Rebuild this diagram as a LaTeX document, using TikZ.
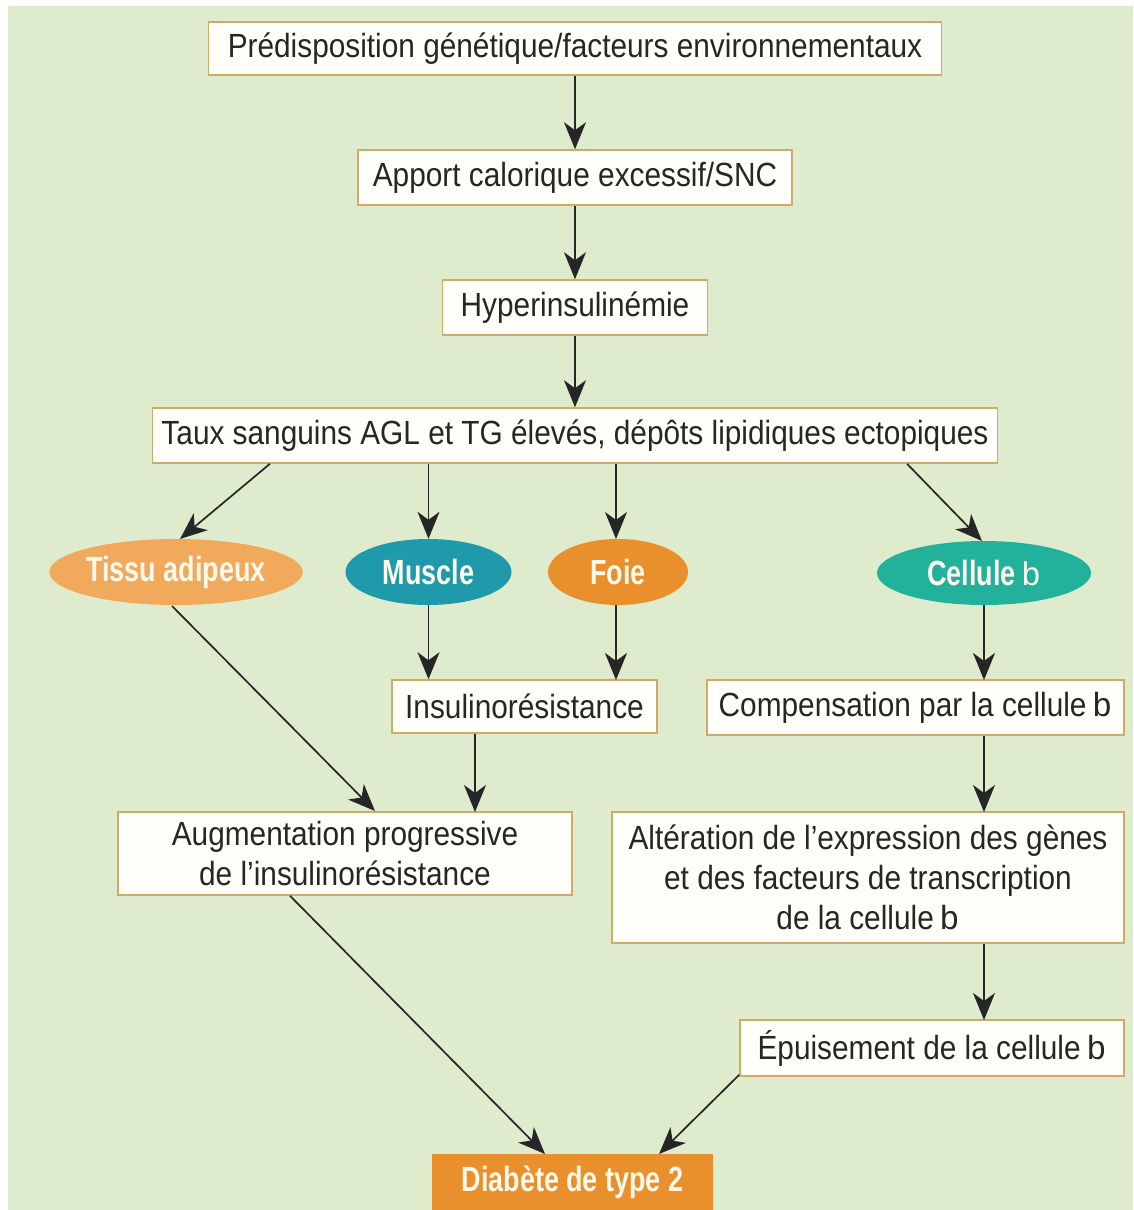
\documentclass[tikz,border=0pt]{standalone}
\usepackage{fontspec}
\setmainfont{Liberation Sans}[FakeStretch=0.89]
\newfontfamily\monob{Liberation Mono}
\usetikzlibrary{arrows.meta,shapes.geometric}
\definecolor{bggreen}{HTML}{DFEBCD}
\definecolor{boxborder}{HTML}{D2AA68}
\definecolor{boxfill}{HTML}{FFFEF8}
\definecolor{adipo}{HTML}{F1A95C}
\definecolor{musc}{HTML}{1F9AAB}
\definecolor{foie}{HTML}{E98F2C}
\definecolor{cellb}{HTML}{22B29C}
\definecolor{diab}{HTML}{E98F2C}
\definecolor{txt}{HTML}{262626}
\definecolor{eltxt}{HTML}{FFF9EC}
\newfontfamily\boldcond{Liberation Sans Bold}[FakeStretch=0.77]
\tikzset{
  fbox/.style={draw=boxborder, line width=1.5pt, fill=boxfill, text=txt,
    inner sep=0pt, align=center, font=\fontsize{33.5}{40}\selectfont},
  oval/.style={ellipse, inner sep=0pt, text=eltxt,
    font=\fontsize{35}{40}\boldcond},
  arr/.style={draw=txt, line width=1.7pt,
    -{Stealth[length=27pt,width=22pt,inset=8pt]}},
}
\newcommand{\bb}{{\monob\,b}}
\begin{document}
\begin{tikzpicture}[x=1pt,y=-1pt]
\useasboundingbox (0,0) rectangle (1133,1210);
\fill[bggreen] (8,6) rectangle (1133,1210);

\node[fbox, minimum width=733pt, minimum height=53pt] (pre) at (575,48.5) {Prédisposition génétique/facteurs environnementaux};
\node[fbox, minimum width=434pt, minimum height=55pt] (app) at (575,177.5) {Apport calorique excessif/SNC};
\node[fbox, minimum width=265pt, minimum height=55pt] (hyp) at (575,307.5) {Hyperinsulinémie};
\node[fbox, minimum width=845pt, minimum height=55pt] (taux) at (575,435.5) {Taux sanguins AGL et TG élevés, dépôts lipidiques ectopiques};

\node[oval, fill=adipo, minimum width=252pt, minimum height=66pt] (adi) at (176,572) {Tissu adipeux};
\node[oval, fill=musc, minimum width=166pt, minimum height=66pt] (mus) at (428.5,572) {Muscle};
\node[oval, fill=foie, minimum width=140pt, minimum height=66pt] (foi) at (618,572) {Foie};
\node[oval, fill=cellb, minimum width=214pt, minimum height=64pt] (cel) at (984,573) {Cellule{\fontsize{33}{40}\monob\,b}};

\node[fbox, minimum width=265pt, minimum height=53pt] (ins) at (524.5,706.5) {Insulinorésistance};
\node[fbox, minimum width=417pt, minimum height=55pt] (com) at (915.5,707.5) {Compensation par la cellule\bb};
\node[fbox, minimum width=454pt, minimum height=83pt] (aug) at (345,853.5) {Augmentation progressive\\de l’insulinorésistance};
\node[fbox, minimum width=512pt, minimum height=131pt] (alt) at (868,877.5) {Altération de l’expression des gènes\\et des facteurs de transcription\\de la cellule\bb};
\node[fbox, minimum width=384pt, minimum height=56pt] (epu) at (932,1048) {Épuisement de la cellule\bb};
\node[fill=diab, minimum width=281pt, minimum height=56pt, inner sep=0pt, text=eltxt,
  font=\fontsize{35}{40}\boldcond] (dia) at (572.5,1182) {Diabète de type 2};

\draw[arr] (pre.south) -- (app.north);
\draw[arr] (app.south) -- (hyp.north);
\draw[arr] (hyp.south) -- (taux.north);
\draw[arr] (taux.south -| 270,0) -- (180,539);
\draw[arr] (taux.south -| mus.north) -- (mus.north);
\draw[arr] (taux.south -| 616,0) -- (616,539);
\draw[arr] (taux.south -| 907,0) -- (982,541);
\draw[arr] (mus.south) -- (mus.south |- ins.north);
\draw[arr] (616,605) -- (616,680);
\draw[arr] (172,606) -- (375,811);
\draw[arr] (ins.south -| 475,0) -- (475,812);
\draw[arr] (cel.south -| 984,0) -- (984,680);
\draw[arr] (com.south -| 984,0) -- (984,812);
\draw[arr] (alt.south -| 984,0) -- (984,1020);
\draw[arr] (aug.south -| 290,0) -- (545,1154);
\draw[arr] (epu.south west) ++(0,-2) -- (659,1154);
\end{tikzpicture}
\end{document}
